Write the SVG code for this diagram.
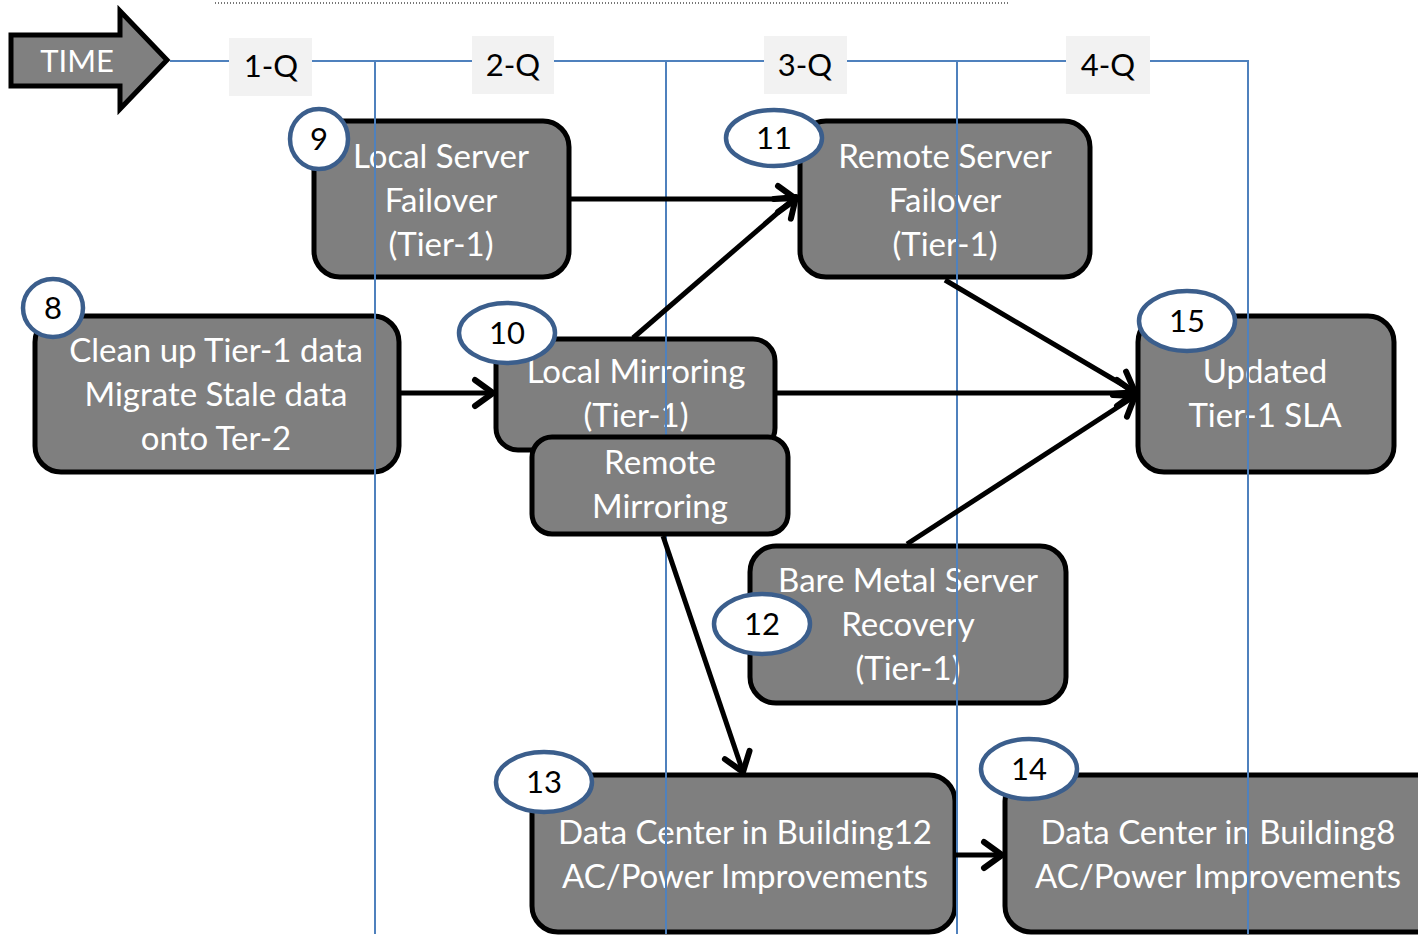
<svg xmlns="http://www.w3.org/2000/svg" width="1418" height="936" viewBox="0 0 1418 936">
<style>
.box{fill:#7f7f7f;stroke:#000;stroke-width:5}
.num{fill:#fff;stroke:#3b5e8c;stroke-width:4.5}
.t{font-family:Lato,"Open Sans",sans-serif;font-size:33px;fill:#fff;text-anchor:middle}
.n{font-family:Lato,"Open Sans",sans-serif;font-size:31px;fill:#000;text-anchor:middle}
.q{fill:#f2f2f2}
.grid{stroke:#4f81bd;stroke-width:2;fill:none}
.con{stroke:#000;stroke-width:5;fill:none}
</style>
<defs>
<marker id="arr" markerUnits="userSpaceOnUse" viewBox="-24 -18 30 36" refX="0" refY="0" markerWidth="30" markerHeight="36" orient="auto" overflow="visible">
<path d="M-18,-13 L0,0 L-18,13" fill="none" stroke="#000" stroke-width="6" stroke-linecap="round" stroke-linejoin="round"/>
</marker>
</defs>
<rect width="1418" height="936" fill="#fff"/>
<line x1="215" y1="3" x2="1010" y2="3" stroke="#777" stroke-width="2" stroke-dasharray="1 2"/>

<g id="time">
<polygon points="11,35 120,35 120,11 167,60 120,109 120,86 11,86" fill="#808080" stroke="#000" stroke-width="5"/>
<text x="77" y="72" class="t" style="font-size:31px">TIME</text>
</g>

<g id="node9">
<rect class="box" x="314" y="121" width="255" height="156" rx="26"/>
<text class="t" x="441" y="168">Local Server</text>
<text class="t" x="441" y="212">Failover</text>
<text class="t" x="441" y="256">(Tier-1)</text>
<ellipse class="num" cx="319" cy="139" rx="29" ry="30"/>
<text class="n" x="319" y="150">9</text>
</g>

<g id="node11">
<rect class="box" x="800" y="121" width="290" height="156" rx="26"/>
<text class="t" x="945" y="168">Remote Server</text>
<text class="t" x="945" y="212">Failover</text>
<text class="t" x="945" y="256">(Tier-1)</text>
<ellipse class="num" cx="774" cy="138" rx="48" ry="28"/>
<text class="n" x="774" y="149">11</text>
</g>

<g id="node8">
<rect class="box" x="35" y="316" width="364" height="156" rx="26"/>
<text class="t" x="216" y="362">Clean up Tier-1 data</text>
<text class="t" x="216" y="406">Migrate Stale data</text>
<text class="t" x="216" y="450">onto Ter-2</text>
<ellipse class="num" cx="53" cy="308" rx="30" ry="29"/>
<text class="n" x="53" y="319">8</text>
</g>

<g id="node10">
<rect class="box" x="496" y="339" width="279" height="111" rx="22"/>
<text class="t" x="636" y="383">Local Mirroring</text>
<text class="t" x="636" y="427">(Tier-1)</text>
<ellipse class="num" cx="507" cy="333" rx="48" ry="30"/>
<text class="n" x="507" y="344">10</text>
</g>

<g id="node15">
<rect class="box" x="1138" y="316" width="256" height="156" rx="26"/>
<text class="t" x="1265" y="383">Updated</text>
<text class="t" x="1265" y="427">Tier-1 SLA</text>
<ellipse class="num" cx="1187" cy="321" rx="48" ry="30"/>
<text class="n" x="1187" y="332">15</text>
</g>

<g id="node12">
<rect class="box" x="750" y="546" width="316" height="157" rx="26"/>
<text class="t" x="908" y="592">Bare Metal Server</text>
<text class="t" x="908" y="636">Recovery</text>
<text class="t" x="908" y="680">(Tier-1)</text>
<ellipse class="num" cx="762" cy="624" rx="48" ry="30"/>
<text class="n" x="762" y="635">12</text>
</g>

<g id="node13">
<rect class="box" x="532" y="775" width="423" height="157" rx="26"/>
<text class="t" x="745" y="844">Data Center in Building12</text>
<text class="t" x="745" y="888">AC/Power Improvements</text>
<ellipse class="num" cx="544" cy="782" rx="48" ry="30"/>
<text class="n" x="544" y="793">13</text>
</g>

<g id="node14">
<rect class="box" x="1005" y="775" width="440" height="157" rx="26"/>
<text class="t" x="1218" y="844">Data Center in Building8</text>
<text class="t" x="1218" y="888">AC/Power Improvements</text>
<ellipse class="num" cx="1029" cy="769" rx="48" ry="30"/>
<text class="n" x="1029" y="780">14</text>
</g>

<g id="timeline">
<path class="grid" d="M170,61 H1248 V934"/>
<line class="grid" x1="375" y1="61" x2="375" y2="934"/>
<line class="grid" x1="666" y1="61" x2="666" y2="934"/>
<line class="grid" x1="957" y1="61" x2="957" y2="934"/>
<rect class="q" x="229" y="38" width="83" height="58"/>
<text class="n" x="271" y="77">1-Q</text>
<rect class="q" x="472" y="36" width="82" height="58"/>
<text class="n" x="513" y="76">2-Q</text>
<rect class="q" x="764" y="36" width="83" height="58"/>
<text class="n" x="805" y="76">3-Q</text>
<rect class="q" x="1066" y="36" width="84" height="58"/>
<text class="n" x="1108" y="76">4-Q</text>
</g>

<g id="nodeRemoteMirroring">
<rect class="box" x="532" y="437" width="256" height="97" rx="20"/>
<text class="t" x="660" y="474">Remote</text>
<text class="t" x="660" y="518">Mirroring</text>
</g>

<g id="connectors">
<line class="con" x1="569" y1="199" x2="796" y2="199" marker-end="url(#arr)"/>
<line class="con" x1="399" y1="393" x2="493" y2="393" marker-end="url(#arr)"/>
<line class="con" x1="633" y1="338" x2="796" y2="197" marker-end="url(#arr)"/>
<line class="con" x1="775" y1="393" x2="1135" y2="393" marker-end="url(#arr)"/>
<line class="con" x1="945" y1="280" x2="1135" y2="392" marker-end="url(#arr)"/>
<line class="con" x1="907" y1="544" x2="1135" y2="396" marker-end="url(#arr)"/>
<line class="con" x1="663" y1="536" x2="743" y2="772" marker-end="url(#arr)"/>
<line class="con" x1="955" y1="855" x2="1002" y2="855" marker-end="url(#arr)"/>
</g>
</svg>
